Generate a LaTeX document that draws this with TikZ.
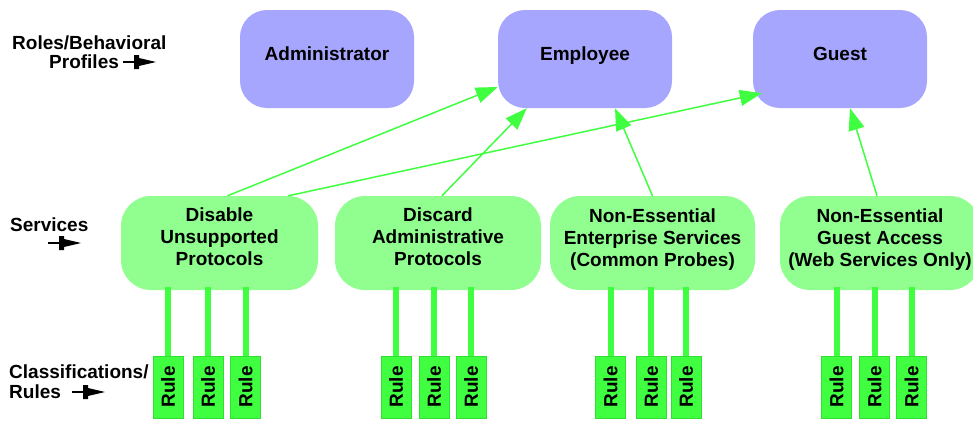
\documentclass[tikz,border=0pt]{standalone}
\usepackage{fontspec}
\setmainfont{Liberation Sans}
\usetikzlibrary{arrows.meta,calc}
\definecolor{rolefill}{RGB}{166,166,255}
\definecolor{svcfill}{RGB}{144,255,144}
\definecolor{rulefill}{RGB}{64,255,64}
\definecolor{rulebord}{RGB}{50,222,50}
\definecolor{linkgreen}{RGB}{64,255,64}

\tikzset{
  pics/rowpointer/.style={code={
    \draw[line width=1.3pt] (0,0) -- (12,0);
    \fill (11,-7) -- (16,-7) -- (16,-4) -- (33,0) -- (16,4) -- (16,7) -- (11,7) -- cycle;
  }}
}

\begin{document}
\begin{tikzpicture}[x=1pt,y=-1pt,
  every node/.style={font=\fontsize{19}{22}\selectfont\bfseries, inner sep=0pt},
  boxtext/.style={align=center, yshift=6pt},
  roletext/.style={text height=14pt, text depth=0pt, yshift=6pt},
  role/.style={fill=rolefill, rounded corners=27pt, minimum width=174pt, minimum height=98pt},
  service/.style={fill=svcfill, rounded corners=30pt, minimum height=94pt},
  rulebox/.style={fill=rulefill, draw=rulebord, line width=0.8pt, minimum width=30pt, minimum height=62pt},
  rowlabel/.style={anchor=west},
  link/.style={draw=linkgreen, line width=1.5pt, -{Triangle[length=22pt,width=16pt]}},
  stem/.style={draw=linkgreen, line width=6pt}
]
\useasboundingbox (0,0) rectangle (973,421);
\clip (0,0) rectangle (973,421);

% row captions on the left
\node[rowlabel] (capA) at (12,43) {Roles/Behavioral};
\node[rowlabel] (capB) at (49,62) {Profiles};
\node[rowlabel] (capC) at (10,225) {Services};
\node[rowlabel] (capD) at (9,372) {Classifications/};
\node[rowlabel] (capE) at (9,392) {Rules};
\pic at (123,62) {rowpointer};
\pic at (48,243) {rowpointer};
\pic at (72,392) {rowpointer};

% roles
\node[role, label={[roletext]center:Administrator}] (adm) at (327,59) {};
\node[role, label={[roletext]center:Employee}] (emp) at (585,59) {};
\node[role, label={[roletext]center:Guest}] (gst) at (840,59) {};

% rule boxes (drawn first so the stems sit under the service boxes)
\foreach \nm/\x in {r1/168, r2/208, r3/245.5, r4/396, r5/434, r6/471,
                    r7/610.5, r8/651, r9/686, r10/836.5, r11/874.5, r12/911.5} {
  \node[rulebox] (\nm) at (\x,387) {\rotatebox{90}{Rule}};
}

% services
\node[service, minimum width=197pt, label={[boxtext]center:Disable\\Unsupported\\Protocols}] (dis) at (219.5,243) {};
\node[service, minimum width=206pt, label={[boxtext]center:Discard\\Administrative\\Protocols}] (dcd) at (438,243) {};
\node[service, minimum width=205pt, label={[boxtext, yshift=-3pt]center:Non-Essential\\Enterprise Services\\(Common Probes)}] (ent) at (652.5,243) {};
\node[service, minimum width=200pt, label={[boxtext, yshift=-3pt]center:Non-Essential\\Guest Access\\(Web Services Only)}] (gac) at (880,243) {};

\foreach \nm/\svc in {r1/dis, r2/dis, r3/dis, r4/dcd, r5/dcd, r6/dcd,
                      r7/ent, r8/ent, r9/ent, r10/gac, r11/gac, r12/gac} {
  \draw[stem] (\nm.north) -- ($(\nm.north |- \svc.south)+(0,-3)$);
}

% service -> role links
\draw[link] ($(dis.north)+(8,0)$) -- ($(emp.west)+(0,28)$);
\draw[link] ($(dis.north east)+(-30,0)$) -- ($(gst.south west)+(9,-15)$);
\draw[link] ($(dcd.north)+(4,0)$) -- ($(emp.south west)+(29,0)$);
\draw[link] (ent.north) -- ($(emp.south)+(30,0)$);
\draw[link] ($(gac.north)+(-3,0)$) -- ($(gst.south)+(10,0)$);
\end{tikzpicture}
\end{document}
